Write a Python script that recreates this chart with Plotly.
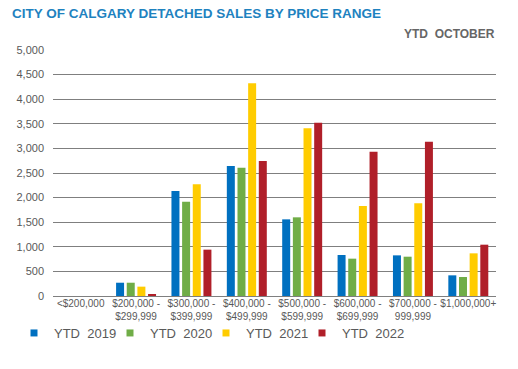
import plotly.graph_objects as go

categories = ["<$200,000", "$200,000 -<br>$299,999", "$300,000 -<br>$399,999",
              "$400,000 -<br>$499,999", "$500,000 -<br>$599,999", "$600,000 -<br>$699,999",
              "$700,000 -<br>999,999", "$1,000,000+"]
series_names = ["YTD  2019", "YTD  2020", "YTD  2021", "YTD  2022"]
ytd_2019 = [0, 270, 2134, 2642, 1558, 833, 826, 420]
ytd_2020 = [0, 270, 1917, 2608, 1599, 759, 799, 386]
ytd_2021 = [0, 190, 2270, 4322, 3408, 1829, 1884, 867]
ytd_2022 = [0, 40, 942, 2744, 3523, 2934, 3137, 1043]
colors = ["#0070C0", "#70AD47", "#FFCC00", "#B01F29"]
y_ticks = [0, 500, 1000, 1500, 2000, 2500, 3000, 3500, 4000, 4500, 5000]

W, H = 518, 369
pl, pr, pt, pb = 53, 22, 50, 73
pw, ph = W - pl - pr, H - pt - pb


def px(x):
    return (x - pl) / pw


def py(y):
    return 1 - (y - pt) / ph


fig = go.Figure()
for name, vals, c in zip(series_names, [ytd_2019, ytd_2020, ytd_2021, ytd_2022], colors):
    fig.add_trace(go.Bar(x=categories, y=vals, name=name, marker_color=c,
                         marker_line_width=0, showlegend=False))
for name, c in zip(series_names, colors):
    fig.add_trace(go.Scatter(x=[None], y=[None], mode="markers", name=name,
                             marker=dict(symbol="square", size=7, color=c)))
# spacer entry so the last legend label is not clipped
fig.add_trace(go.Scatter(x=[None], y=[None], mode="markers", name=" ",
                         marker=dict(size=1, color="rgba(255,255,255,0)", opacity=0,
                                     line=dict(width=0)),
                         hoverinfo="skip"))

fig.update_layout(
    width=W, height=H,
    margin=dict(l=pl, r=pr, t=pt, b=pb, autoexpand=False),
    paper_bgcolor="white", plot_bgcolor="white",
    barmode="group", bargap=0.23, bargroupgap=0.25,
    font=dict(family="Arial, Liberation Sans", color="#595959", size=10),
    showlegend=True,
    legend=dict(orientation="h", x=px(14), xref="paper", y=py(333), yanchor="middle",
                xanchor="left", font=dict(size=13, color="#595959"),
                itemwidth=30, tracegroupgap=0, entrywidth=51, entrywidthmode="pixels",
                bgcolor="rgba(0,0,0,0)"),
    xaxis=dict(showgrid=False, showline=False, ticks="", tickfont=dict(size=10),
               tickangle=0),
    yaxis=dict(range=[0, 5000], tickvals=y_ticks, tickformat=",", showgrid=True,
               gridcolor="#7F7F7F", gridwidth=1.2, zeroline=True, zerolinecolor="#7F7F7F",
               zerolinewidth=1.2, ticks="", tickfont=dict(size=11), ticklabelstandoff=8),
    annotations=[
        dict(text="<b>CITY OF CALGARY DETACHED SALES BY PRICE RANGE</b>", x=px(10), y=py(13),
             xref="paper", yref="paper", showarrow=False, xanchor="left", yanchor="middle",
             font=dict(size=13.5, color="#1E82BF", family="Arial, Liberation Sans")),
        dict(text="<b>YTD  OCTOBER</b>", x=px(497), y=py(34), xref="paper", yref="paper",
             showarrow=False, xanchor="right", yanchor="middle",
             font=dict(size=12, color="#666666", family="Arial, Liberation Sans")),
    ],
)
fig.write_html("out.html", config={"displayModeBar": False},
               post_script="document.body.style.margin='0';")
